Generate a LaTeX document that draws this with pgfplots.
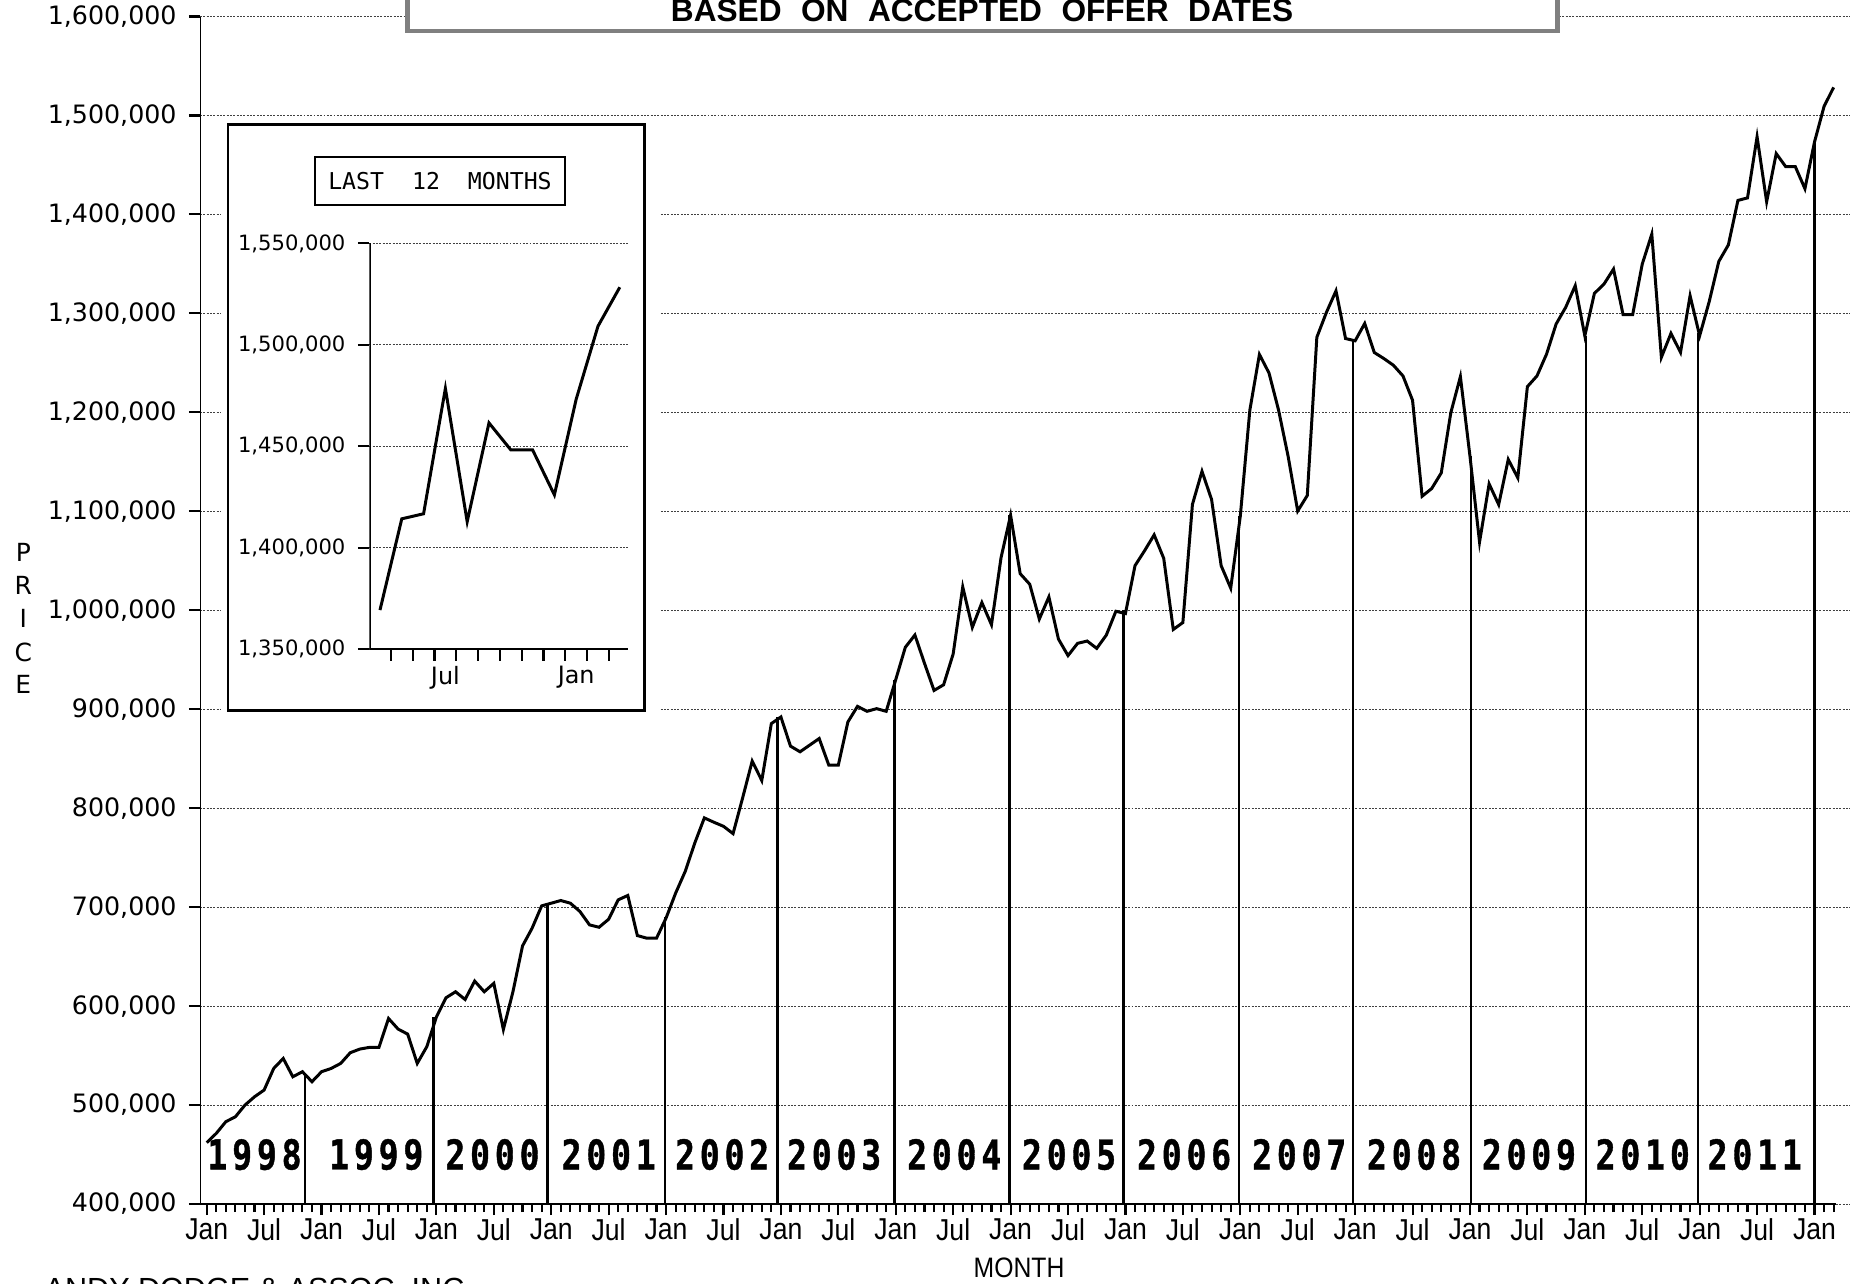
\documentclass[border=0pt]{standalone}
\usepackage{fontspec}
\usepackage{pgfplots}
\pgfplotsset{compat=1.18}
\setmainfont{DejaVu Sans}
\newfontfamily\narrowfont[FakeStretch=0.88]{Liberation Sans}
\newfontfamily\monofont{DejaVu Sans Mono}
\newfontfamily\yearfont[FakeStretch=0.8, LetterSpace=12, FakeBold=1]{DejaVu Sans Mono}
\newfontfamily\helv{Liberation Sans}
\newcommand{\fs}[1]{\fontsize{#1}{#1}\selectfont}
\begin{document}
\begin{tikzpicture}
\useasboundingbox (0,0) rectangle (185mm,-128.3mm);
\begin{axis}[
  at={(20mm,-120.4mm)}, anchor=south west,
  scale only axis, width=165mm, height=118.75mm,
  xmin=-0.7, xmax=171.71, ymin=400000, ymax=1600000,
  axis line style={draw=none},
  tick align=outside, tick pos=left,
  xtick={0,6,...,168},
  xticklabels={Jan,Jul,Jan,Jul,Jan,Jul,Jan,Jul,Jan,Jul,Jan,Jul,Jan,Jul,Jan,Jul,Jan,Jul,Jan,Jul,Jan,Jul,Jan,Jul,Jan,Jul,Jan,Jul,\raisebox{-0.4mm}{Jan}},
  minor xtick={0,...,170},
  major tick length=1.1mm, minor tick length=0.8mm,
  tick style={black, line width=0.6pt},
  ytick={400000,500000,600000,700000,800000,900000,1000000,1100000,1200000,1300000,1400000,1500000,1600000},
  scaled y ticks=false,
  ymajorgrids,
  major grid style={black!75, line width=0.3pt, dash pattern=on 0.55pt off 0.4pt},
  xticklabel style={font=\narrowfont\fs{8.6pt}, yshift=0.9mm},
  yticklabel style={font=\fs{7.2pt}, /pgf/number format/.cd, fixed, precision=0, 1000 sep={,}, assume math mode=true},
]
\addplot[black, line width=0.85pt] coordinates {
(0,462000)(1,471400)(2,483200)(3,488200)(4,500000)(5,508400)(6,515200)(7,537000)(8,547100)(9,528600)(10,533700)(11,523600)(12,533700)(13,537000)(14,542100)(15,552900)(16,556600)(17,558300)(18,558300)(19,587500)(20,576800)(21,571700)(22,542100)(23,559000)(24,589000)(25,608400)(26,614500)(27,606700)(28,625300)(29,614500)(30,623000)(31,576400)(32,614500)(33,660800)(34,678700)(35,701300)(36,704000)(37,706700)(38,704000)(39,695600)(40,682100)(41,679700)(42,687800)(43,707400)(44,711800)(45,671300)(46,668600)(47,668600)(48,689000)(49,714200)(50,736100)(51,764800)(52,790200)(53,785800)(54,781700)(55,774300)(56,810400)(57,847600)(58,828000)(59,885500)(60,892200)(61,862700)(62,857000)(63,863700)(64,870400)(65,843600)(66,843600)(67,887200)(68,902900)(69,897900)(70,900600)(71,897900)(72,930000)(73,962600)(74,975000)(75,946500)(76,919000)(77,924700)(78,955900)(79,1023600)(80,982700)(81,1007800)(82,985400)(83,1053100)(84,1096000)(85,1037000)(86,1026300)(87,991100)(88,1013500)(89,970900)(90,954200)(91,966600)(92,968900)(93,961500)(94,974900)(95,999000)(96,996700)(97,1045100)(98,1060200)(99,1076200)(100,1052500)(101,980600)(102,987600)(103,1107000)(104,1140400)(105,1112000)(106,1045100)(107,1022400)(108,1095000)(109,1202300)(110,1258500)(111,1239800)(112,1202300)(113,1155500)(114,1100300)(115,1116000)(116,1275900)(117,1301000)(118,1322800)(119,1274600)(120,1272300)(121,1289800)(122,1260500)(123,1254400)(124,1247600)(125,1236800)(126,1212200)(127,1115200)(128,1123000)(129,1138800)(130,1199700)(131,1236100)(132,1155700)(133,1068900)(134,1127700)(135,1106800)(136,1152400)(137,1133800)(138,1226000)(139,1236800)(140,1258800)(141,1289200)(142,1306100)(143,1328000)(144,1277300)(145,1320200)(146,1329600)(147,1344800)(148,1298700)(149,1298700)(150,1349800)(151,1380100)(152,1255600)(153,1279800)(154,1260600)(155,1317800)(156,1277400)(157,1312000)(158,1352500)(159,1369200)(160,1414200)(161,1416700)(162,1478500)(163,1412800)(164,1461500)(165,1448200)(166,1448200)(167,1426000)(168,1473200)(169,1509200)(170,1528400)
};
\addplot[black, line width=0.7pt] coordinates {(10.27,400000)(10.27,531000)};
\addplot[black, line width=0.7pt] coordinates {(23.68,400000)(23.68,589000)};
\addplot[black, line width=0.7pt] coordinates {(35.63,400000)(35.63,702000)};
\addplot[black, line width=0.7pt] coordinates {(47.89,400000)(47.89,690000)};
\addplot[black, line width=0.7pt] coordinates {(59.66,400000)(59.66,892000)};
\addplot[black, line width=0.7pt] coordinates {(71.85,400000)(71.85,930000)};
\addplot[black, line width=0.7pt] coordinates {(83.87,400000)(83.87,1096000)};
\addplot[black, line width=0.7pt] coordinates {(95.78,400000)(95.78,1000000)};
\addplot[black, line width=0.7pt] coordinates {(107.87,400000)(107.87,1095000)};
\addplot[black, line width=0.7pt] coordinates {(119.8,400000)(119.8,1272300)};
\addplot[black, line width=0.7pt] coordinates {(132.08,400000)(132.08,1155700)};
\addplot[black, line width=0.7pt] coordinates {(144.1,400000)(144.1,1277300)};
\addplot[black, line width=0.7pt] coordinates {(155.8,400000)(155.8,1280000)};
\addplot[black, line width=0.7pt] coordinates {(167.98,400000)(167.98,1473200)};
\draw[line width=0.8pt] (axis cs:-0.7,1600000) -- (axis cs:-0.7,400000) -- (axis cs:170.25,400000);
\begin{scope}[every node/.style={font=\yearfont\bfseries\fs{11.7pt}, inner sep=0pt, xshift=0.25mm}]
\node at (axis cs:4.74,450000) {1998};
\node at (axis cs:17.46,450000) {1999};
\node at (axis cs:29.6,450000) {2000};
\node at (axis cs:41.75,450000) {2001};
\node at (axis cs:53.6,450000) {2002};
\node at (axis cs:65.3,450000) {2003};
\node at (axis cs:77.85,450000) {2004};
\node at (axis cs:89.85,450000) {2005};
\node at (axis cs:101.87,450000) {2006};
\node at (axis cs:113.9,450000) {2007};
\node at (axis cs:125.9,450000) {2008};
\node at (axis cs:137.9,450000) {2009};
\node at (axis cs:149.8,450000) {2010};
\node at (axis cs:161.5,450000) {2011};
\end{scope}
\end{axis}
\begin{scope}[x=0.1mm, y=-0.1mm]
\fill[white] (221,116) rectangle (659,714);
\draw[line width=0.85pt] (228,124) rectangle (644,710);
\draw[line width=0.55pt] (315,157) rectangle (565,205);
\node[font=\monofont\fs{6.6pt}] at (440,181) {LAST\ \ 12\ \ MONTHS};
\draw[line width=1.4pt, draw=gray, fill=white] (407.5,-20) rectangle (1557.5,31);
\node[anchor=base, font=\helv\bfseries\fs{9pt}, inner sep=0pt] at (982,21) {BASED\hspace{1.95mm}ON\hspace{1.95mm}ACCEPTED\hspace{1.95mm}OFFER\hspace{1.95mm}DATES};
\begin{scope}[every node/.style={font=\fs{7.1pt}, inner sep=0pt}]
\node at (23.3,552) {P};
\node at (23.3,585) {R};
\node at (23.3,618) {I};
\node at (23.3,652) {C};
\node at (23.3,684) {E};
\end{scope}
\node[font=\narrowfont\fs{8pt}, inner sep=0pt] at (1019,1268) {MONTH};
\node[anchor=base west, font=\helv\fs{8.7pt}, inner sep=0pt] at (44,1299) {ANDY DODGE \& ASSOC. INC.};
\end{scope}
\begin{axis}[
  at={(36.93mm,-64.9mm)}, anchor=south west,
  scale only axis, width=25.9mm, height=40.56mm,
  xmin=-0.49, xmax=11.39, ymin=1350000, ymax=1550000,
  axis line style={draw=none},
  tick align=outside, tick pos=left,
  xtick={-0.5,0.5,...,10.5}, xticklabels={},
  extra x ticks={3,9}, extra x tick labels={Jul,Jan},
  extra x tick style={major tick length=0pt, xmajorgrids=false, xticklabel style={yshift=-0.5mm}},
  major tick length=1.15mm,
  tick style={black, line width=0.6pt},
  ytick={1350000,1400000,1450000,1500000,1550000},
  scaled y ticks=false,
  ymajorgrids,
  major grid style={black!75, line width=0.3pt, dash pattern=on 0.55pt off 0.4pt},
  xticklabel style={font=\fs{6.8pt}},
  yticklabel style={font=\fs{6.0pt}, /pgf/number format/.cd, fixed, precision=0, 1000 sep={,}, assume math mode=true},
]
\addplot[black, line width=0.85pt] coordinates {
(0,1369200)(1,1414200)(2,1416700)(3,1478500)(4,1412800)(5,1461500)(6,1448200)(7,1448200)(8,1426000)(9,1473200)(10,1509200)(11,1528400)
};
\draw[line width=0.8pt] (axis cs:-0.49,1550000) -- (axis cs:-0.49,1350000) -- (axis cs:11.39,1350000);
\end{axis}
\end{tikzpicture}
\end{document}
